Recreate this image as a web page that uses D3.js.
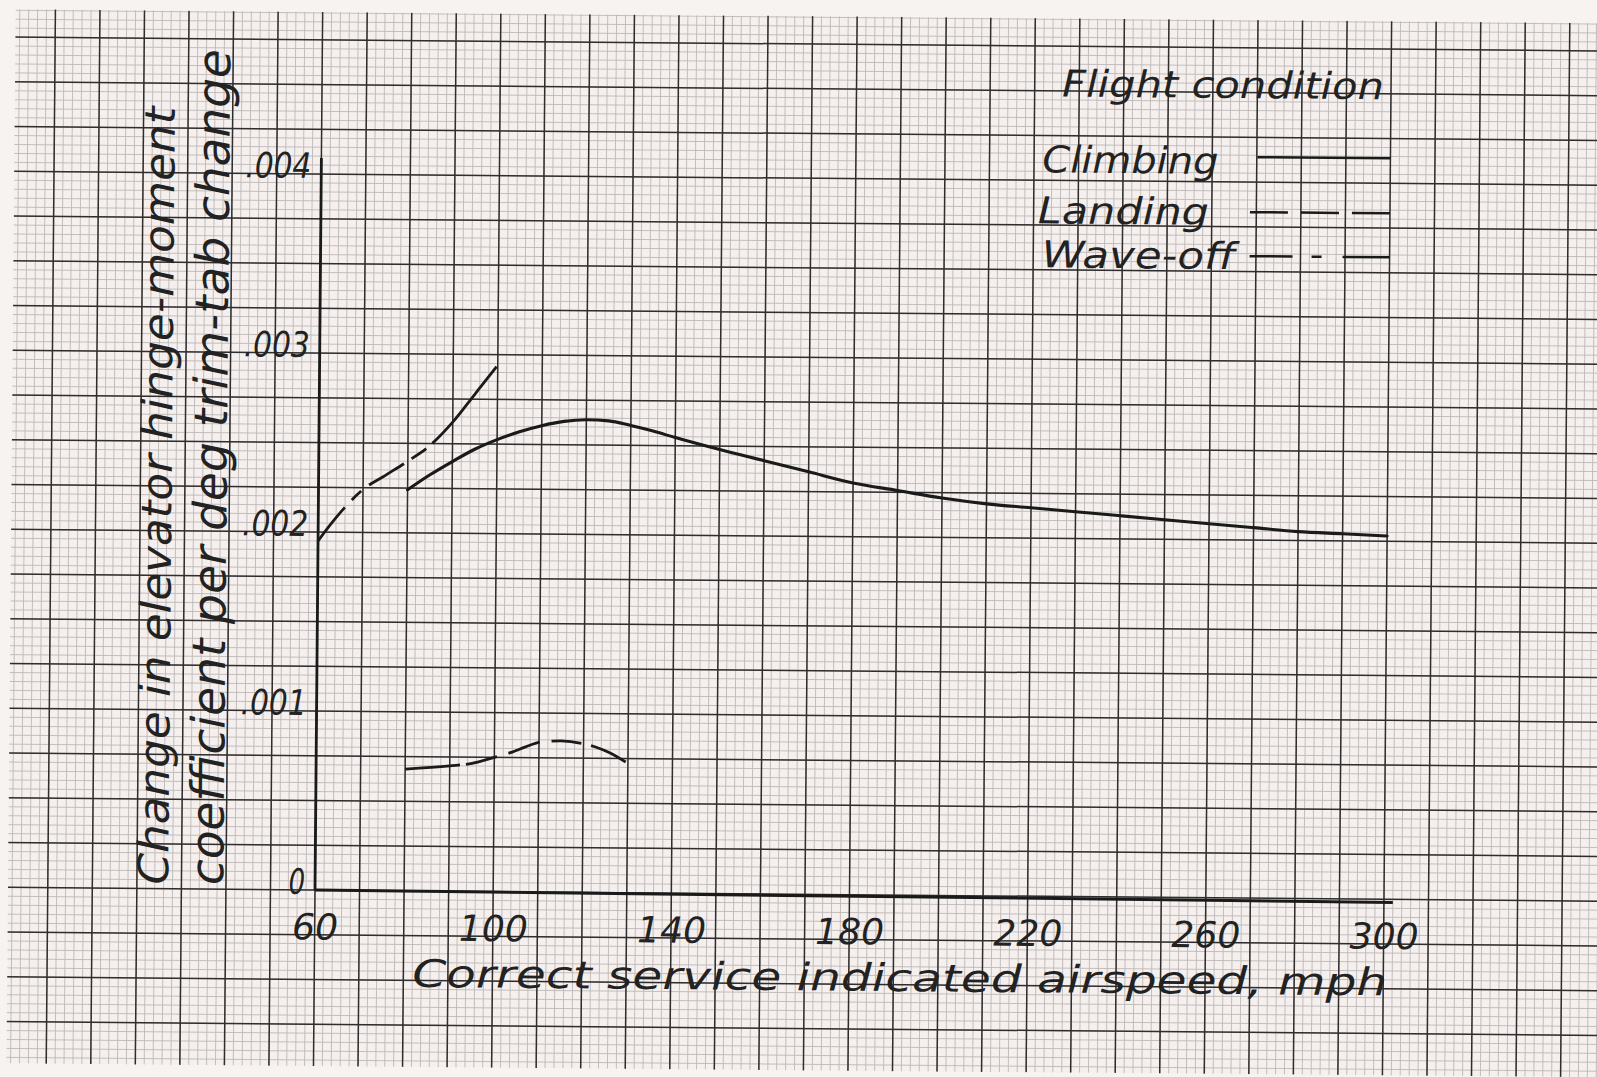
<!DOCTYPE html>
<html><head><meta charset="utf-8">
<script src="https://cdn.jsdelivr.net/npm/d3@7"></script>
<style>
html,body{margin:0;padding:0;background:#f7f3f1;}
svg{display:block;}
text{font-family:"DejaVu Sans",sans-serif;font-style:oblique;fill:#222;}
</style></head><body>
<svg id="chart" width="1597" height="1077"></svg>
<script>
// ---- data ----
const climbingSpeed=[80,85,90,95,100,105,110,115,120,125,130,135,140,150,160,170,180,190,200,210,220,230,240,250,260,270,280,290,300];
const climbingValue=[0.00224,0.002325,0.00240,0.00247,0.002525,0.00257,0.002605,0.00263,0.00264,0.002635,0.00261,0.00258,0.002545,0.00248,0.00242,0.00236,0.00230,0.00226,0.00222,0.00219,0.00217,0.00215,0.00213,0.00211,0.00209,0.00207,0.00205,0.00204,0.00203];
const landingSpeed=[80,90,95,100,104,107,111,115,120,123,126,129.5];
const landingValue=[0.00068,0.00070,0.000715,0.00075,0.00078,0.00081,0.00084,0.000845,0.00083,0.00081,0.00078,0.00073];
const waveoffSpeed=[60,63,66,70,75,80,85,90,95,100];
const waveoffValue=[0.00195,0.00205,0.00214,0.00224,0.00232,0.00240,0.00249,0.00262,0.00278,0.00294];
const xTicks=[60,100,140,180,220,260,300];
const yTicks=[0,0.001,0.002,0.003,0.004];
const yTickLabels=["0",".001",".002",".003",".004"];
const legendTitle="Flight condition";
const legendNames=["Climbing","Landing","Wave-off"];
const xTitle="Correct service indicated airspeed, mph";
const yTitle1="Change in elevator hinge-moment";
const yTitle2="coefficient per deg trim-tab change";

// ---- drawing ----
const svg=d3.select('#chart');
svg.append('rect').attr('width',1597).attr('height',1077).attr('fill','#f7f3f1');
const g=svg.append('g').attr('transform','rotate(0.5,315,890)');
const x=d3.scaleLinear().domain([60,300]).range([315,1384]);
const y=d3.scaleLinear().domain([0,0.004]).range([890,174]);

// graph paper
const defs=svg.append('defs');
defs.append('clipPath').attr('id','paper').append('rect')
  .attr('x',8).attr('y',12).attr('width',1640).attr('height',1054);
const paper=g.append('g').attr('clip-path','url(#paper)');
paper.append('rect').attr('x',8).attr('y',12).attr('width',1640).attr('height',1054).attr('fill','#f5f0ee');
const minorX=d3.range(-35,185).map(k=>k*2);
const majorX=d3.range(-7,37).map(k=>k*10);
const minorY=d3.range(-21,100).map(k=>k*0.00005);
const majorY=d3.range(-5,20).map(k=>k*0.00025);
paper.append('g').selectAll('line').data(minorX).join('line')
  .attr('x1',d=>x(d)).attr('x2',d=>x(d)).attr('y1',0).attr('y2',1100)
  .attr('stroke','#bdb8b7').attr('stroke-width',0.9);
paper.append('g').selectAll('line').data(minorY).join('line')
  .attr('y1',d=>y(d)).attr('y2',d=>y(d)).attr('x1',0).attr('x2',1700)
  .attr('stroke','#bdb8b7').attr('stroke-width',0.9);
paper.append('g').selectAll('line').data(majorX).join('line')
  .attr('x1',d=>x(d)).attr('x2',d=>x(d)).attr('y1',0).attr('y2',1100)
  .attr('stroke','#2f2d2d').attr('stroke-width',1.5);
paper.append('g').selectAll('line').data(majorY).join('line')
  .attr('y1',d=>y(d)).attr('y2',d=>y(d)).attr('x1',0).attr('x2',1700)
  .attr('stroke','#2f2d2d').attr('stroke-width',1.5);

// axes
g.append('line').attr('x1',x(60)).attr('x2',x(60)).attr('y1',y(0)).attr('y2',y(0.00409))
  .attr('stroke','#1a1a1a').attr('stroke-width',2.8);
g.append('line').attr('x1',x(60)).attr('x2',x(302)).attr('y1',y(0)).attr('y2',y(0)+3)
  .attr('stroke','#1a1a1a').attr('stroke-width',3);

const yAxis=d3.axisLeft(y).tickValues(yTicks).tickSize(0).tickPadding(10)
  .tickFormat((d,i)=>yTickLabels[i]);
const ya=g.append('g').attr('transform',`translate(${x(60)},0)`).call(yAxis);
ya.select('.domain').remove();
ya.selectAll('text').attr('font-size',35).attr('dy','0.1em')
  .attr('textLength',(d,i)=>yTickLabels[i].length*16.5).attr('lengthAdjust','spacingAndGlyphs')
  .style('font-family','"DejaVu Sans",sans-serif').style('font-style','oblique').attr('fill','#222');

const xAxis=d3.axisBottom(x).tickValues(xTicks).tickSize(0).tickPadding(24);
const xa=g.append('g').attr('transform',`translate(0,${y(0)})`).call(xAxis);
xa.select('.domain').remove();
xa.selectAll('text').attr('font-size',36)
  .attr('textLength',d=>String(d).length*23).attr('lengthAdjust','spacingAndGlyphs')
  .style('font-family','"DejaVu Sans",sans-serif').style('font-style','oblique').attr('fill','#222');

// curves
const line=d3.line().x(d=>x(d[0])).y(d=>y(d[1])).curve(d3.curveMonotoneX);
const climbing=climbingSpeed.map((s,i)=>[s,climbingValue[i]]);
const landing=landingSpeed.map((s,i)=>[s,landingValue[i]]);
const waveoff=waveoffSpeed.map((s,i)=>[s,waveoffValue[i]]);
g.append('path').datum(climbing).attr('d',line).attr('fill','none')
  .attr('stroke','#1a1a1a').attr('stroke-width',3.1).attr('stroke-linecap','round');
g.append('path').datum(landing).attr('d',line).attr('fill','none')
  .attr('stroke','#1a1a1a').attr('stroke-width',2.8)
  .attr('stroke-dasharray','55,6,32,12,33,12,30,10,40');
g.append('path').datum(waveoff).attr('d',line).attr('fill','none')
  .attr('stroke','#1a1a1a').attr('stroke-width',2.8)
  .attr('stroke-dasharray','43,10,13,10,41,9,18,8,100');

// legend
const lg=g.append('g');
lg.append('text').attr('x',1055).attr('y',90).attr('font-size',37)
  .attr('textLength',322).attr('lengthAdjust','spacingAndGlyphs').text(legendTitle);
const legendRows=[
  {ty:166,tx:1036,len:176,ly:149,lx1:1251,dash:null},
  {ty:217,tx:1032,len:171,ly:204,lx1:1244,dash:'38,13,38,13,38'},
  {ty:261,tx:1036,len:194,ly:248,lx1:1244,dash:'43,19,10,21,47'}];
legendNames.forEach((n,i)=>{
  const r=legendRows[i];
  lg.append('text').attr('x',r.tx).attr('y',r.ty).attr('font-size',37)
    .attr('textLength',r.len).attr('lengthAdjust','spacingAndGlyphs').text(n);
  const l=lg.append('line').attr('x1',r.lx1).attr('x2',1384).attr('y1',r.ly).attr('y2',r.ly)
    .attr('stroke','#1a1a1a').attr('stroke-width',2.5);
  if(r.dash) l.attr('stroke-dasharray',r.dash);
});

// axis titles
g.append('text').attr('x',413).attr('y',986).attr('font-size',38)
  .attr('textLength',975).attr('lengthAdjust','spacingAndGlyphs').text(xTitle);
g.append('text').attr('transform','translate(168,886) rotate(-90)').attr('font-size',42)
  .attr('textLength',778).attr('lengthAdjust','spacingAndGlyphs').text(yTitle1);
g.append('text').attr('transform','translate(223,886) rotate(-90)').attr('font-size',46)
  .attr('textLength',836).attr('lengthAdjust','spacingAndGlyphs').text(yTitle2);
</script>
</body></html>
